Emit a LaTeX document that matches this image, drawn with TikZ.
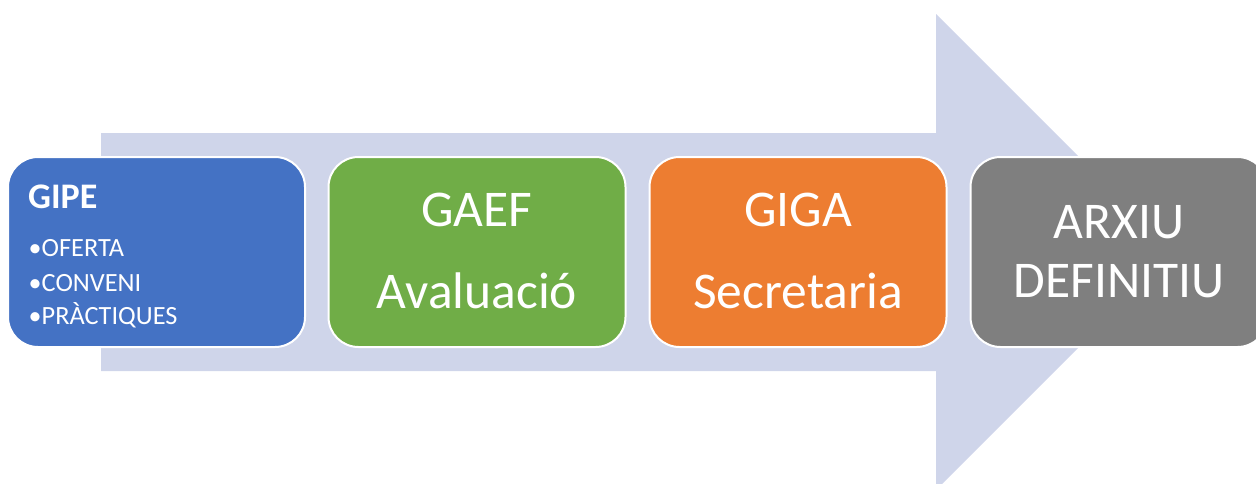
\documentclass[tikz,border=0pt]{standalone}
\usepackage{fontspec}
\setmainfont{Carlito}
\definecolor{arrowfill}{HTML}{CFD5EA}
\definecolor{cblue}{HTML}{4472C4}
\definecolor{cgreen}{HTML}{70AD47}
\definecolor{corange}{HTML}{ED7D31}
\definecolor{cgray}{HTML}{7F7F7F}
\newcommand{\mybul}{\makebox[13pt][l]{\fontsize{26}{26}\selectfont•}}
\begin{document}
\begin{tikzpicture}[x=1pt,y=-1pt,
  stagebox/.style={draw=white, line width=2pt, rounded corners=30pt,
    minimum width=297pt, minimum height=190pt, inner sep=0pt},
  bigtxt/.style={text=white, inner sep=0pt, anchor=base, font=\fontsize{51.5}{60}\selectfont},
  smalltxt/.style={text=white, inner sep=0pt, anchor=base west, font=\fontsize{26.3}{30}\selectfont},
  headtxt/.style={text=white, inner sep=0pt, anchor=base west, font=\fontsize{36}{40}\selectfont\bfseries}]
\useasboundingbox (0,0) rectangle (1256,483);
\clip (0,0) rectangle (1256,483);
% big arrow
\fill[arrowfill] (101,133) -- (936,133) -- (936,14) -- (1174,252) -- (936,490) -- (936,371) -- (101,371) -- cycle;
% boxes
\node[stagebox, fill=cblue] (gipe) at (156.5,252) {};
\node[stagebox, fill=cgreen] (gaef) at (477,252) {};
\node[stagebox, fill=corange] (giga) at (798,252) {};
\node[stagebox, fill=cgray] (arxiu) at (1119,252) {};
% texts
\node[headtxt] (gipeT) at (28,208) {GIPE};
\node[smalltxt] (gipeA) at (28.5,256) {\mybul OFERTA};
\node[smalltxt] (gipeB) at (28.5,291) {\mybul CONVENI};
\node[smalltxt] (gipeC) at (28.5,324) {\mybul PRÀCTIQUES};
\node[bigtxt] (gaefA) at (477,226) {GAEF};
\node[bigtxt] (gaefB) at (477,308) {Avaluació};
\node[bigtxt] (gigaA) at (798,226) {GIGA};
\node[bigtxt] (gigaB) at (798,308) {Secretaria};
\node[bigtxt] (arxiuA) at (1119,238) {ARXIU};
\node[bigtxt] (arxiuB) at (1119,297) {DEFINITIU};
\end{tikzpicture}
\end{document}
